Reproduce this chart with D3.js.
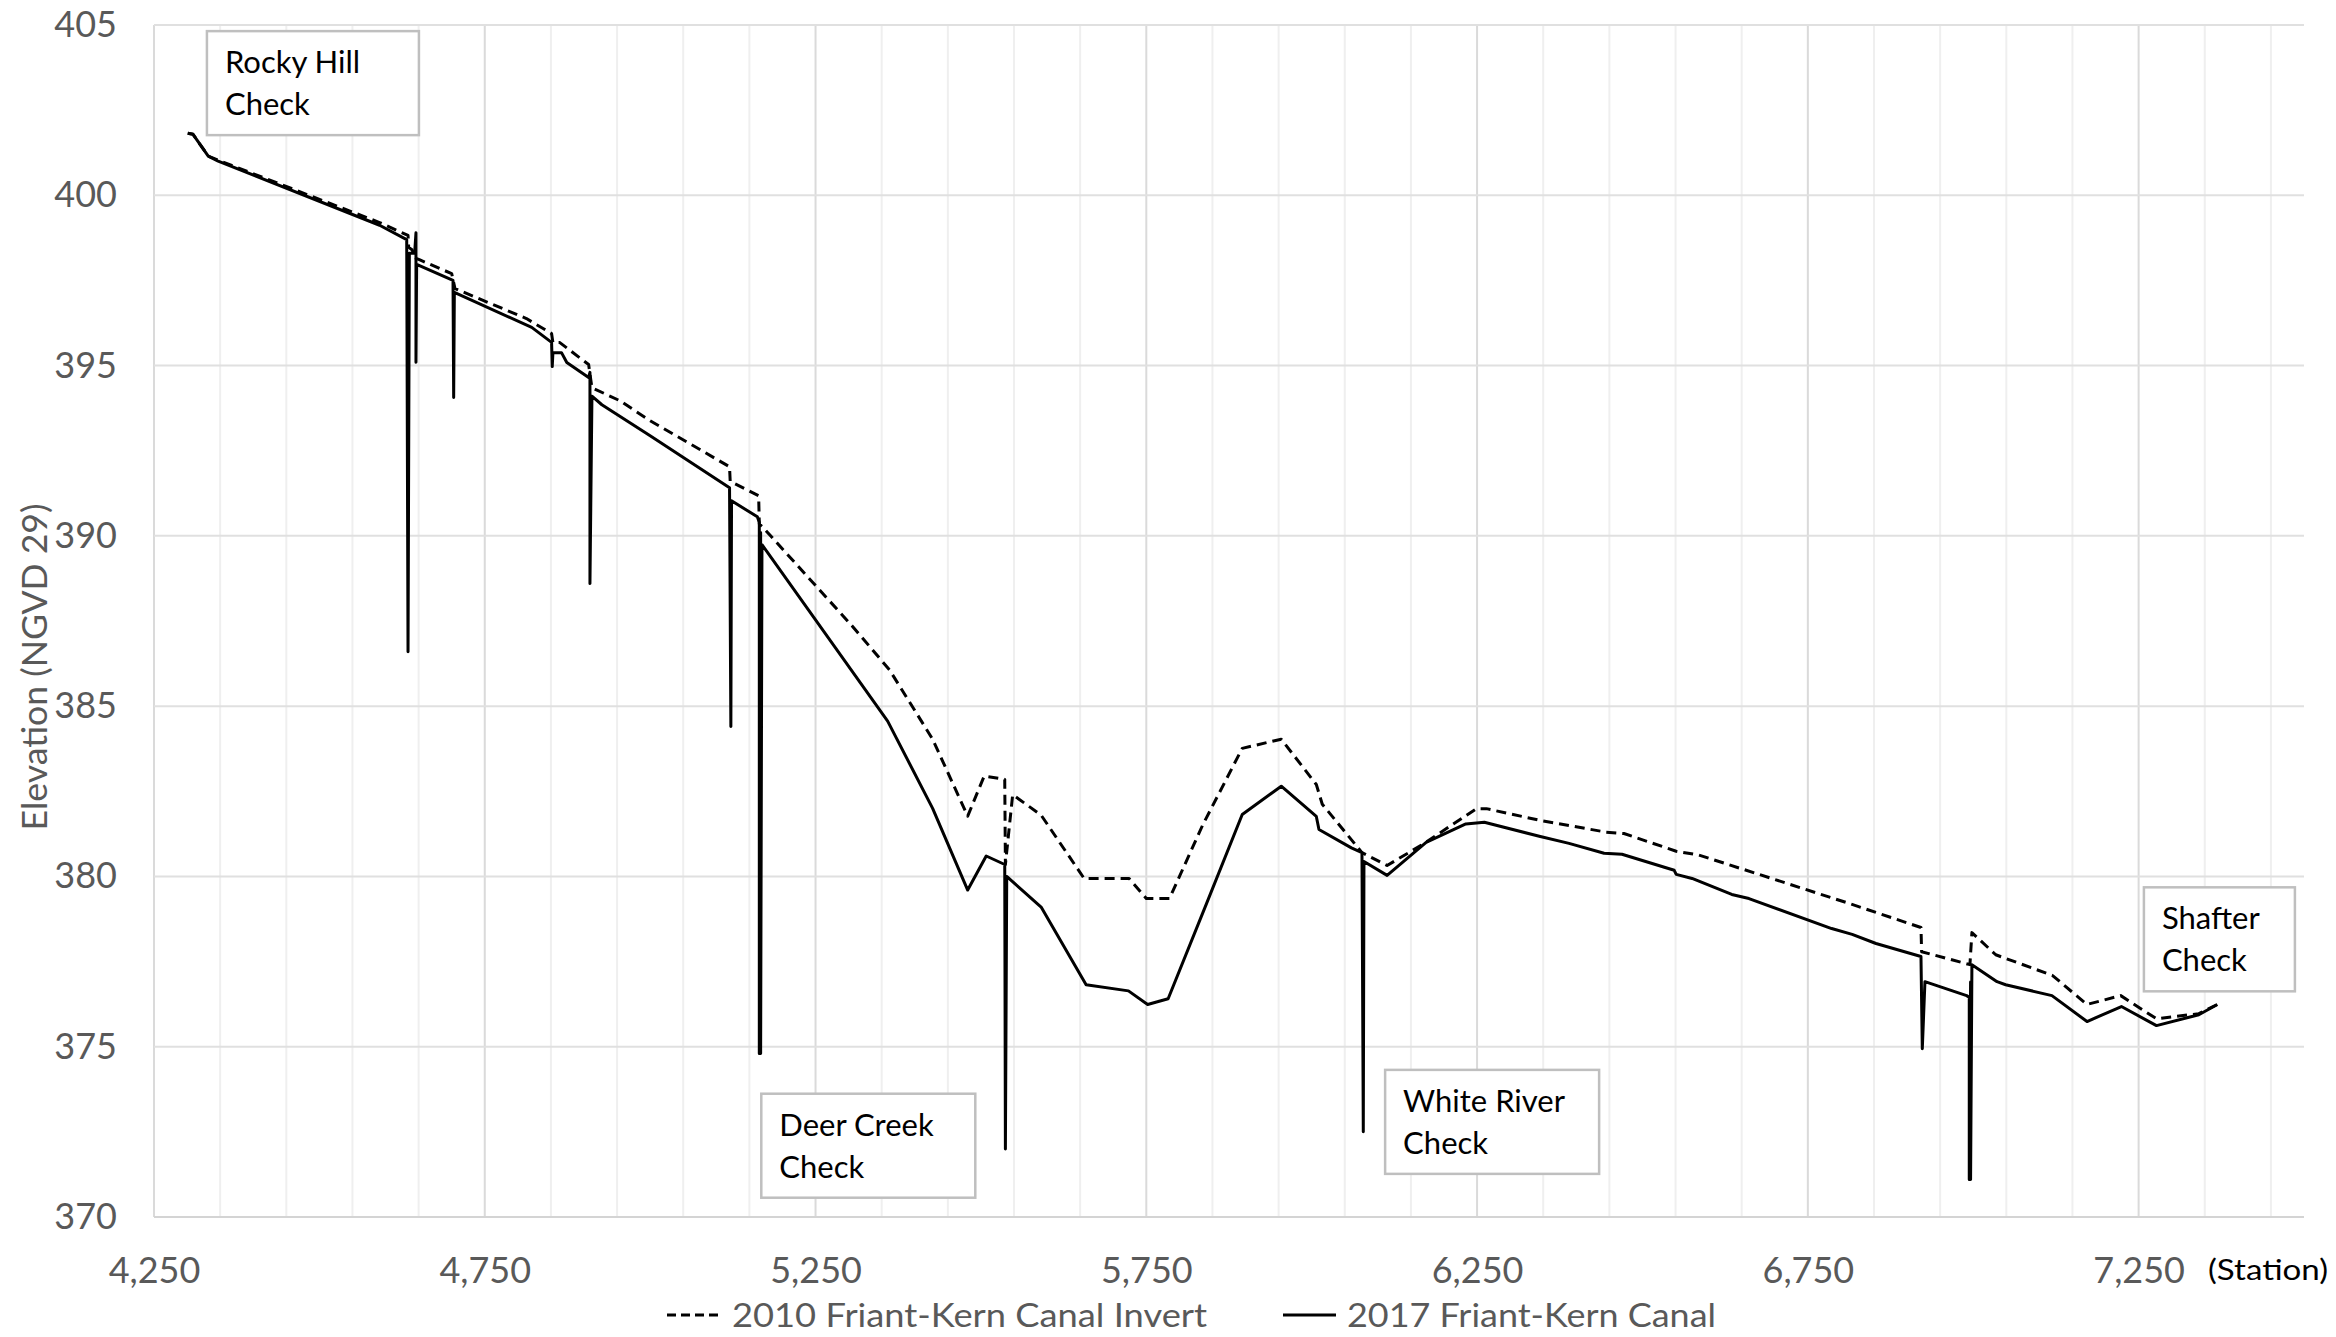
<!DOCTYPE html>
<html>
<head>
<meta charset="utf-8">
<script src="https://cdn.jsdelivr.net/npm/d3@7"></script>
<style>
  body { margin: 0; background: #fff; }
  text { font-family: Lato, "Open Sans", sans-serif; }
</style>
</head>
<body>
<div id="chart"></div>
<script>
// 2017 Friant-Kern Canal (solid line) - station / elevation
var stations2017 = [4301, 4309, 4332, 4347, 4591, 4632, 4634, 4636, 4644, 4646, 4646, 4647,
  4702, 4703, 4704, 4821, 4851, 4852, 4853, 4866, 4874, 4907, 4909, 4909, 4912,
  4927, 5000, 5120, 5122, 5123, 5162, 5165, 5165, 5167, 5167, 5169,
  5359, 5427, 5480, 5508, 5536, 5537, 5539, 5591, 5659, 5723, 5752, 5783, 5841, 5895,
  5954, 6007, 6011, 6060, 6076, 6078, 6079, 6114, 6173, 6233, 6261, 6344, 6389, 6442,
  6469, 6548, 6551, 6575, 6635, 6661, 6786, 6817, 6853, 6921, 6923, 6927, 6990,
  6994, 6994, 6996, 6996, 6998, 7036, 7049, 7119, 7172, 7224, 7277, 7341, 7369];
var elev2017 = [401.82, 401.79, 401.15, 401.0, 399.12, 398.70, 386.6, 398.3, 398.3, 398.9, 395.1, 397.97,
  397.5, 394.06, 397.15, 396.12, 395.68, 394.97, 395.38, 395.38, 395.09, 394.65, 394.8, 388.6, 394.1,
  393.85, 392.94, 391.41, 384.4, 391.03, 390.56, 390.4, 374.8, 390.1, 374.8, 389.74,
  384.56, 382.0, 379.6, 380.6, 380.35, 372.0, 380.0, 379.1, 376.82, 376.64, 376.24, 376.41, 379.2, 381.82,
  382.65, 381.76, 381.38, 380.84, 380.7, 372.5, 380.44, 380.03, 381.0, 381.54, 381.59, 381.18, 380.97, 380.68,
  380.65, 380.18, 380.06, 379.94, 379.47, 379.35, 378.47, 378.3, 378.03, 377.65, 374.94, 376.91, 376.5,
  376.45, 371.1, 376.9, 371.1, 377.41, 376.91, 376.82, 376.5, 375.74, 376.18, 375.62, 375.94, 376.24];

// 2010 Friant-Kern Canal Invert (dashed line)
var stations2010 = [4301, 4309, 4332, 4347, 4591, 4634, 4635, 4640, 4646, 4652, 4700, 4705,
  4813, 4851, 4853, 4863, 4907, 4912, 4954, 5000, 5120, 5121, 5164, 5165, 5170,
  5306, 5362, 5427, 5480, 5505, 5536, 5537, 5548, 5591, 5656, 5724, 5750, 5785,
  5835, 5895, 5954, 6007, 6016, 6076, 6114, 6170, 6249, 6264, 6344, 6445, 6472,
  6551, 6585, 6812, 6921, 6922, 6995, 6998, 7034, 7120, 7172, 7223, 7277, 7341, 7369];
var elev2010 = [401.82, 401.79, 401.15, 401.03, 399.2, 398.82, 398.47, 398.4, 398.15, 398.1, 397.7, 397.26,
  396.38, 395.94, 395.68, 395.68, 395.03, 394.35, 393.97, 393.38, 392.03, 391.6, 391.18, 390.35, 390.26,
  387.34, 386.06, 384.03, 381.77, 382.95, 382.85, 380.35, 382.4, 381.8, 379.94, 379.94, 379.35, 379.35,
  381.5, 383.76, 384.03, 382.7, 382.12, 380.7, 380.32, 380.97, 381.99, 381.99, 381.65, 381.3, 381.26,
  380.74, 380.63, 379.21, 378.5, 377.79, 377.41, 378.35, 377.7, 377.09, 376.24, 376.5, 375.82, 375.97, 376.24];

var xTicks = [4250, 4750, 5250, 5750, 6250, 6750, 7250];
var xMinor = [4250, 4350, 4450, 4550, 4650, 4750, 4850, 4950, 5050, 5150, 5250, 5350, 5450, 5550,
  5650, 5750, 5850, 5950, 6050, 6150, 6250, 6350, 6450, 6550, 6650, 6750, 6850, 6950,
  7050, 7150, 7250, 7350, 7450];
var yTicks = [370, 375, 380, 385, 390, 395, 400, 405];

// check labels, anchored at their box's top-left corner (station, elevation)
var checkNames = [["Rocky Hill", "Check"], ["Deer Creek", "Check"], ["White River", "Check"], ["Shafter", "Check"]];
var checkStations = [4330, 5168, 6111, 7258];
var checkElevs = [404.82, 373.62, 374.32, 379.68];
var checkWidths = [212, 214, 214, 151];

var margin = { top: 25, right: 32, bottom: 120, left: 154 },
  width = 2336 - margin.left - margin.right,
  height = 1337 - margin.top - margin.bottom;

var svg = d3.select("#chart")
  .append("svg")
  .attr("width", width + margin.left + margin.right)
  .attr("height", height + margin.top + margin.bottom)
  .append("g")
  .attr("transform", "translate(" + margin.left + "," + margin.top + ")");

var x = d3.scaleLinear().domain([4250, 7500]).range([0, width]);
var y = d3.scaleLinear().domain([370, 405]).range([height, 0]);

// gridlines
svg.selectAll(".vgrid")
  .data(xMinor)
  .enter()
  .append("line")
  .attr("x1", function (d) { return x(d); })
  .attr("x2", function (d) { return x(d); })
  .attr("y1", 0)
  .attr("y2", height)
  .attr("stroke", function (d) { return xTicks.indexOf(d) >= 0 ? "#dadada" : "#efefef"; })
  .attr("stroke-width", 2);

svg.selectAll(".hgrid")
  .data(yTicks)
  .enter()
  .append("line")
  .attr("x1", 0)
  .attr("x2", width)
  .attr("y1", function (d) { return y(d); })
  .attr("y2", function (d) { return y(d); })
  .attr("stroke", function (d) { return d == 370 ? "#d4d4d4" : "#e0e0e0"; })
  .attr("stroke-width", 2);

// axes (labels only)
var xAxis = svg.append("g")
  .attr("transform", "translate(0," + height + ")")
  .call(d3.axisBottom(x).tickValues(xTicks).tickSize(0).tickPadding(40).tickFormat(d3.format(",")));
var yAxis = svg.append("g")
  .call(d3.axisLeft(y).tickValues(yTicks).tickSize(0).tickPadding(37));

[xAxis, yAxis].forEach(function (g) {
  g.select(".domain").remove();
  g.selectAll("text")
    .attr("font-size", 36)
    .attr("font-family", "Lato, 'Open Sans', sans-serif")
    .attr("fill", "#595959");
});

svg.append("text")
  .attr("transform", "translate(" + (47 - margin.left) + "," + (667 - margin.top) + ") rotate(-90)")
  .attr("text-anchor", "middle")
  .attr("font-size", 35)
  .attr("textLength", 327)
  .attr("lengthAdjust", "spacingAndGlyphs")
  .attr("fill", "#595959")
  .text("Elevation (NGVD 29)");

svg.append("text")
  .attr("x", 2208 - margin.left)
  .attr("y", 1280 - margin.top)
  .attr("font-size", 28)
  .attr("textLength", 120)
  .attr("lengthAdjust", "spacingAndGlyphs")
  .attr("fill", "#000")
  .text("(Station)");

// series
function toPoints(xs, ys) {
  return xs.map(function (d, i) { return [d, ys[i]]; });
}

var line = d3.line()
  .x(function (d) { return x(d[0]); })
  .y(function (d) { return y(d[1]); });

svg.append("path")
  .datum(toPoints(stations2010, elev2010))
  .attr("d", line)
  .attr("fill", "none")
  .attr("stroke", "#000")
  .attr("stroke-width", 3)
  .attr("stroke-dasharray", "10,6")
  .attr("stroke-linejoin", "round");

svg.append("path")
  .datum(toPoints(stations2017, elev2017))
  .attr("d", line)
  .attr("fill", "none")
  .attr("stroke", "#000")
  .attr("stroke-width", 3)
  .attr("stroke-linejoin", "round");

// check label boxes
var boxes = svg.selectAll(".check")
  .data(checkNames)
  .enter()
  .append("g")
  .attr("transform", function (d, i) {
    return "translate(" + x(checkStations[i]) + "," + y(checkElevs[i]) + ")";
  });

boxes.append("rect")
  .attr("width", function (d, i) { return checkWidths[i]; })
  .attr("height", 104)
  .attr("fill", "#fff")
  .attr("stroke", "#bfbfbf")
  .attr("stroke-width", 2.5);

boxes.each(function (d) {
  var g = d3.select(this);
  d.forEach(function (t, j) {
    g.append("text")
      .attr("x", 18)
      .attr("y", 42 + j * 42)
      .attr("font-size", 31)
      .attr("fill", "#000")
      .text(t);
  });
});

// legend
var legend = svg.append("g").attr("transform", "translate(" + (-margin.left) + "," + (-margin.top) + ")");
legend.append("line")
  .attr("x1", 667).attr("x2", 718).attr("y1", 1315).attr("y2", 1315)
  .attr("stroke", "#000").attr("stroke-width", 3).attr("stroke-dasharray", "9,5");
legend.append("text")
  .attr("x", 732).attr("y", 1327)
  .attr("font-size", 33)
  .attr("textLength", 475).attr("lengthAdjust", "spacingAndGlyphs")
  .attr("fill", "#595959")
  .text("2010 Friant-Kern Canal Invert");
legend.append("line")
  .attr("x1", 1283).attr("x2", 1336).attr("y1", 1315).attr("y2", 1315)
  .attr("stroke", "#000").attr("stroke-width", 3);
legend.append("text")
  .attr("x", 1347).attr("y", 1327)
  .attr("font-size", 33)
  .attr("textLength", 369).attr("lengthAdjust", "spacingAndGlyphs")
  .attr("fill", "#595959")
  .text("2017 Friant-Kern Canal");
</script>
</body>
</html>
